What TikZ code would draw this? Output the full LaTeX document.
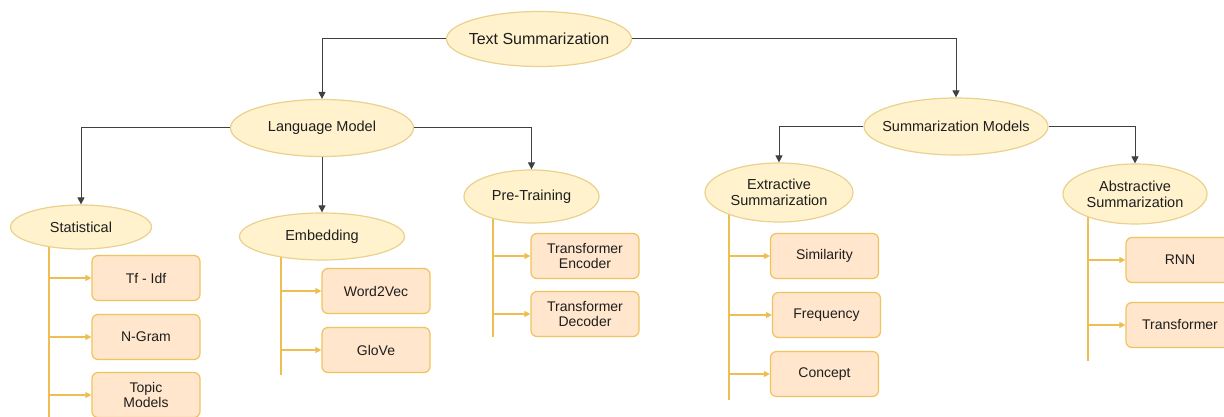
\documentclass[tikz,border=0pt]{standalone}
\usepackage{fontspec}
\setmainfont{Liberation Sans}
\usetikzlibrary{shapes.geometric,arrows.meta,backgrounds}

\definecolor{ellfill}{HTML}{FFF2CC}
\definecolor{elldraw}{HTML}{E8D28E}
\definecolor{boxfill}{HTML}{FFE6CC}
\definecolor{boxdraw}{HTML}{F0C35C}
\definecolor{branchc}{HTML}{EDBF52}
\definecolor{linkc}{HTML}{404040}
\definecolor{txt}{HTML}{1E1E1E}

\begin{document}
\begin{tikzpicture}[x=1pt,y=-1pt,
  topic/.style={ellipse, draw=elldraw, fill=ellfill, line width=1.2pt, inner sep=-12pt,
    text=txt, font=\fontsize{14.5}{16}\selectfont, align=center},
  leaf/.style={rectangle, rounded corners=6pt, draw=boxdraw, fill=boxfill, line width=1.2pt,
    minimum width=108pt, minimum height=45pt, inner sep=0pt,
    text=txt, font=\fontsize{14}{15.5}\selectfont, align=center},
  link/.style={draw=linkc, line width=1pt, -{Triangle[length=7pt,width=7pt]}},
  branch/.style={draw=branchc, line width=1.3pt},
  twig/.style={branch, -{Triangle[length=6pt,width=6pt]}}
]
\useasboundingbox (0,0) rectangle (1224,417);
\clip (0,0) rectangle (1224,417);

% upper levels
\node[topic, minimum width=185pt, minimum height=55pt, font=\fontsize{16}{18}\selectfont] (root) at (539,39) {Text Summarization};
\node[topic, minimum width=183pt, minimum height=57pt] (lm) at (322,128) {Language Model};
\node[topic, minimum width=184pt, minimum height=57pt] (sm) at (956,126.5) {Summarization Models};

% categories
\node[topic, minimum width=141pt, minimum height=44pt] (stat) at (81,227) {Statistical};
\node[topic, minimum width=165pt, minimum height=47pt] (emb) at (322,236.5) {Embedding};
\node[topic, minimum width=135pt, minimum height=53pt] (pre) at (531.5,196.5) {Pre-Training};
\node[topic, minimum width=148pt, minimum height=59pt] (ext) at (779,192.5) {Extractive\\Summarization};
\node[topic, minimum width=144pt, minimum height=60pt] (abs) at (1135,194) {Abstractive\\Summarization};

% techniques
\node[leaf] (tfidf) at (146,278) {Tf - Idf};
\node[leaf] (ngram) at (146,337) {N-Gram};
\node[leaf] (topicm) at (146,395) {Topic\\Models};
\node[leaf] (w2v) at (376,291) {Word2Vec};
\node[leaf] (glove) at (376,350) {GloVe};
\node[leaf] (enc) at (585,256) {Transformer\\Encoder};
\node[leaf] (dec) at (585,314) {Transformer\\Decoder};
\node[leaf] (sim) at (824.5,256) {Similarity};
\node[leaf] (freq) at (826.5,315) {Frequency};
\node[leaf] (concept) at (824.5,374) {Concept};
\node[leaf] (rnn) at (1180,260) {RNN};
\node[leaf] (trans) at (1180,325) {Transformer};

% hierarchy links
\draw[link] (root.west) -| (lm.north);
\draw[link] (root.east) -| (sm.north);
\draw[link] (lm.west) -| (stat.north);
\draw[link] (lm.south) -- (emb.north);
\draw[link] (lm.east) -| (pre.north);
\draw[link] (sm.west) -| (ext.north);
\draw[link] (sm.east) -| (abs.north);

% trunk ends
\coordinate (t1) at (49,420);
\coordinate (t2) at (281,375);
\coordinate (t3) at (493,337);
\coordinate (t4) at (729,400);
\coordinate (t5) at (1088,361);

\begin{scope}[on background layer]
  \draw[branch] (stat.center -| t1) -- (t1);
  \draw[branch] (emb.center -| t2) -- (t2);
  \draw[branch] (pre.center -| t3) -- (t3);
  \draw[branch] (ext.center -| t4) -- (t4);
  \draw[branch] (abs.center -| t5) -- (t5);
\end{scope}

\draw[twig] (tfidf.west -| t1) -- (tfidf.west);
\draw[twig] (ngram.west -| t1) -- (ngram.west);
\draw[twig] (topicm.west -| t1) -- (topicm.west);
\draw[twig] (w2v.west -| t2) -- (w2v.west);
\draw[twig] (glove.west -| t2) -- (glove.west);
\draw[twig] (enc.west -| t3) -- (enc.west);
\draw[twig] (dec.west -| t3) -- (dec.west);
\draw[twig] (sim.west -| t4) -- (sim.west);
\draw[twig] (freq.west -| t4) -- (freq.west);
\draw[twig] (concept.west -| t4) -- (concept.west);
\draw[twig] (rnn.west -| t5) -- (rnn.west);
\draw[twig] (trans.west -| t5) -- (trans.west);
\end{tikzpicture}
\end{document}
